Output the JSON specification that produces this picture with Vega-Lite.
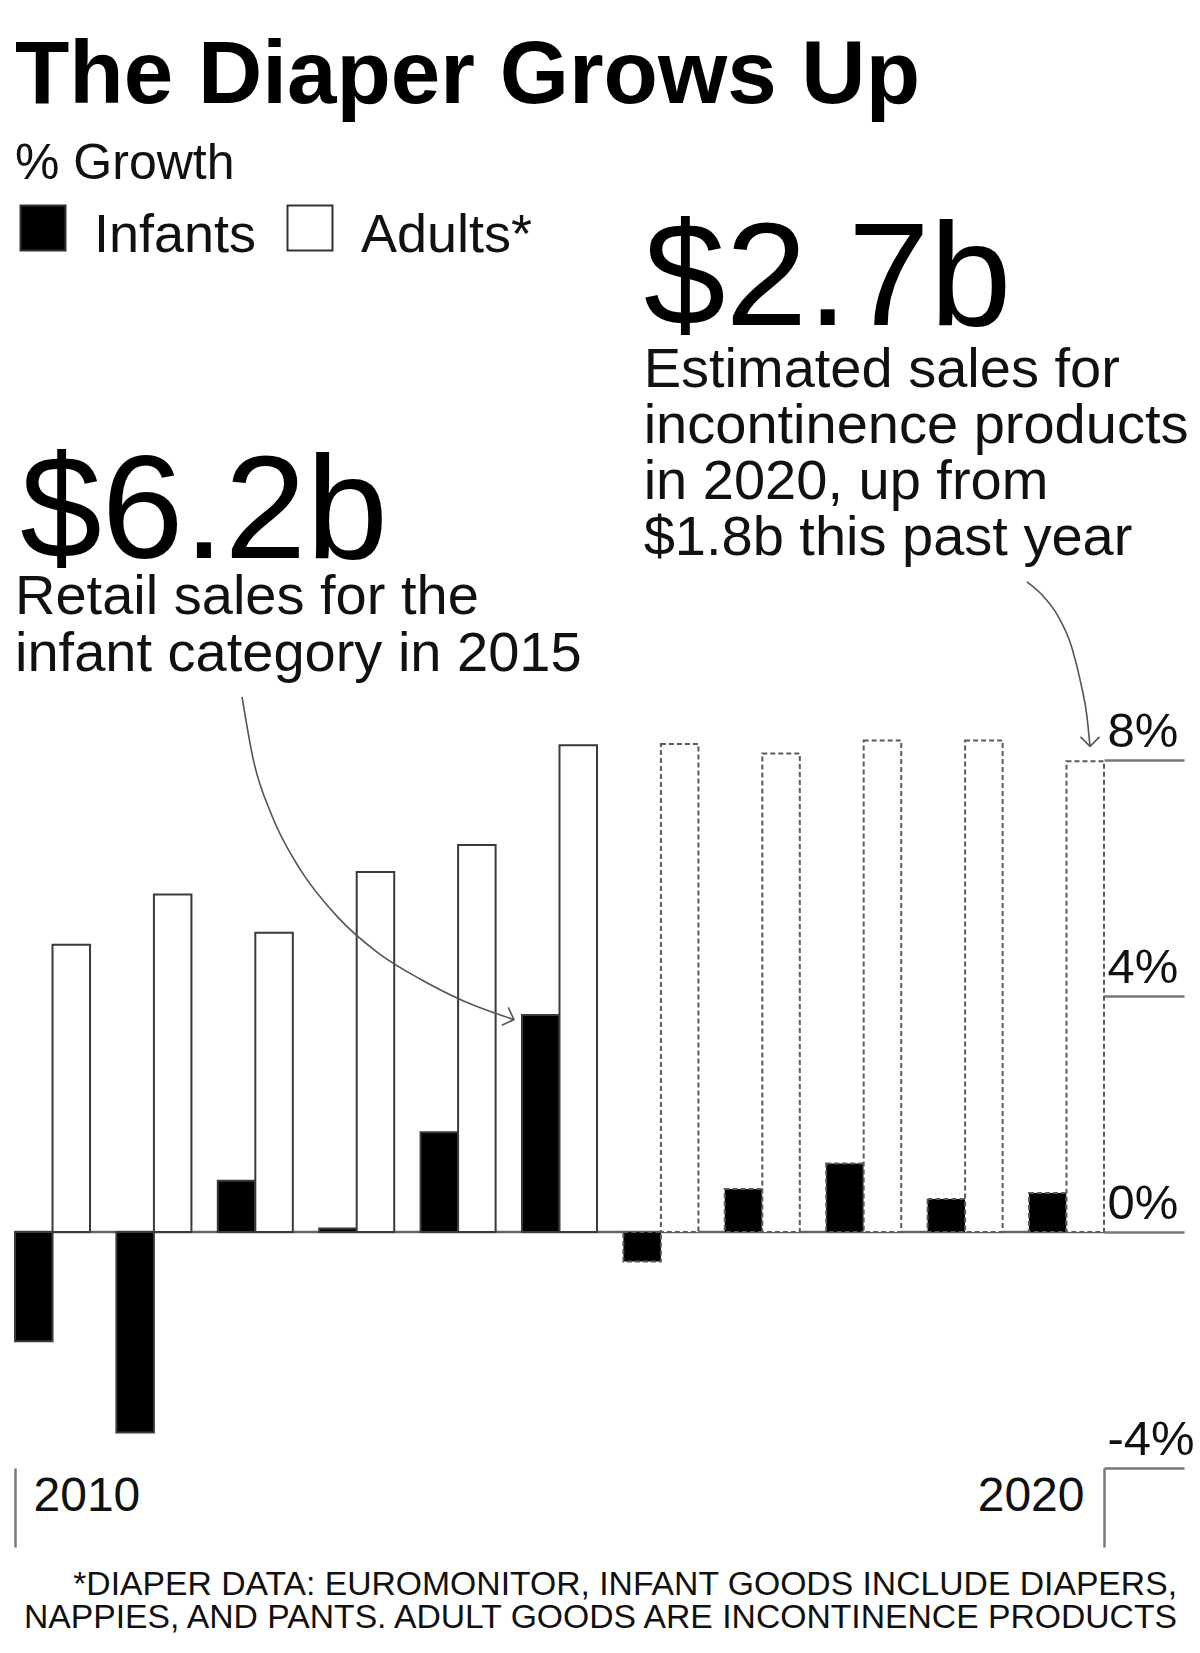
{
  "$schema": "https://vega.github.io/schema/vega-lite/v6.json",
  "width": 1089,
  "height": 708,
  "autosize": {"type": "none"},
  "padding": {"left": 15, "top": 760, "right": 96, "bottom": 185},
  "background": "white",
  "title": {
    "text": "The Diaper Grows Up",
    "subtitle": "% Growth",
    "anchor": "start",
    "frame": "group",
    "orient": "top",
    "font": "Liberation Sans",
    "fontSize": 89,
    "fontWeight": "bold",
    "color": "#000000",
    "subtitleFont": "Liberation Sans",
    "subtitleFontSize": 50,
    "subtitleColor": "#111111",
    "subtitlePadding": 17,
    "offset": 17
  },
  "datasets": {
    "growth": [
      {"year": "2010", "series": "Infants", "growth": -1.85, "basis": "Actual"},
      {"year": "2010", "series": "Adults", "growth": 4.87, "basis": "Actual"},
      {"year": "2011", "series": "Infants", "growth": -3.4, "basis": "Actual"},
      {"year": "2011", "series": "Adults", "growth": 5.72, "basis": "Actual"},
      {"year": "2012", "series": "Infants", "growth": 0.87, "basis": "Actual"},
      {"year": "2012", "series": "Adults", "growth": 5.07, "basis": "Actual"},
      {"year": "2013", "series": "Infants", "growth": 0.06, "basis": "Actual"},
      {"year": "2013", "series": "Adults", "growth": 6.1, "basis": "Actual"},
      {"year": "2014", "series": "Infants", "growth": 1.69, "basis": "Actual"},
      {"year": "2014", "series": "Adults", "growth": 6.56, "basis": "Actual"},
      {"year": "2015", "series": "Infants", "growth": 3.68, "basis": "Actual"},
      {"year": "2015", "series": "Adults", "growth": 8.25, "basis": "Actual"},
      {"year": "2016", "series": "Infants", "growth": -0.5, "basis": "Estimate"},
      {"year": "2016", "series": "Adults", "growth": 8.27, "basis": "Estimate"},
      {"year": "2017", "series": "Infants", "growth": 0.73, "basis": "Estimate"},
      {"year": "2017", "series": "Adults", "growth": 8.11, "basis": "Estimate"},
      {"year": "2018", "series": "Infants", "growth": 1.16, "basis": "Estimate"},
      {"year": "2018", "series": "Adults", "growth": 8.33, "basis": "Estimate"},
      {"year": "2019", "series": "Infants", "growth": 0.56, "basis": "Estimate"},
      {"year": "2019", "series": "Adults", "growth": 8.33, "basis": "Estimate"},
      {"year": "2020", "series": "Infants", "growth": 0.66, "basis": "Estimate"},
      {"year": "2020", "series": "Adults", "growth": 7.98, "basis": "Estimate"}
    ],
    "notes": [
      {"kind": "figure", "x": 2015.83, "y": 15.37, "text": "$2.7b"},
      {"kind": "body", "x": 2015.83, "y": 14.33, "text": "Estimated sales for"},
      {"kind": "body", "x": 2015.83, "y": 13.38, "text": "incontinence products"},
      {"kind": "body", "x": 2015.83, "y": 12.43, "text": "in 2020, up from"},
      {"kind": "body", "x": 2015.83, "y": 11.48, "text": "$1.8b this past year"},
      {"kind": "figure", "x": 2009.68, "y": 11.43, "text": "$6.2b"},
      {"kind": "body", "x": 2009.63, "y": 10.48, "text": "Retail sales for the"},
      {"kind": "body", "x": 2009.63, "y": 9.51, "text": "infant category in 2015"},
      {"kind": "source", "x": 2021.09, "y": -6.15, "text": "*DIAPER DATA: EUROMONITOR, INFANT GOODS INCLUDE DIAPERS,"},
      {"kind": "source", "x": 2021.09, "y": -6.72, "text": "NAPPIES, AND PANTS. ADULT GOODS ARE INCONTINENCE PRODUCTS"}
    ],
    "arrows": [
      {"arrow": "infants", "step": 1, "x": 2011.869, "y": 9.07},
      {"arrow": "infants", "step": 2, "x": 2011.977, "y": 8.03},
      {"arrow": "infants", "step": 3, "x": 2012.165, "y": 7.05},
      {"arrow": "infants", "step": 4, "x": 2012.441, "y": 6.15},
      {"arrow": "infants", "step": 5, "x": 2012.806, "y": 5.35},
      {"arrow": "infants", "step": 6, "x": 2013.22, "y": 4.72},
      {"arrow": "infants", "step": 7, "x": 2013.634, "y": 4.28},
      {"arrow": "infants", "step": 8, "x": 2014.048, "y": 3.92},
      {"arrow": "infants", "step": 9, "x": 2014.551, "y": 3.6},
      {"arrow": "adults", "step": 1, "x": 2019.61, "y": 11.02},
      {"arrow": "adults", "step": 2, "x": 2019.758, "y": 10.8},
      {"arrow": "adults", "step": 3, "x": 2019.916, "y": 10.44},
      {"arrow": "adults", "step": 4, "x": 2020.054, "y": 9.9},
      {"arrow": "adults", "step": 5, "x": 2020.143, "y": 9.29},
      {"arrow": "adults", "step": 6, "x": 2020.202, "y": 8.74},
      {"arrow": "adults", "step": 7, "x": 2020.232, "y": 8.23}
    ],
    "tips": [
      {"arrow": "infants", "x": 2014.551, "y": 3.6},
      {"arrow": "adults", "x": 2020.232, "y": 8.23}
    ]
  },
  "layer": [
    {
      "data": {"values": [{"level": 0}]},
      "mark": {"type": "rule", "color": "#666666", "strokeWidth": 2.5},
      "encoding": {
        "y": {"field": "level", "type": "quantitative", "scale": {"domain": [-4, 8], "nice": false, "zero": false}, "axis": null}
      }
    },
    {
      "data": {"name": "growth"},
      "mark": {"type": "bar", "strokeWidth": 2},
      "encoding": {
        "x": {"field": "year", "type": "ordinal", "scale": {"paddingInner": 0.26, "paddingOuter": 0}, "axis": null},
        "xOffset": {"field": "series", "type": "nominal", "scale": {"domain": ["Infants", "Adults"], "paddingInner": 0, "paddingOuter": 0}},
        "y": {
          "field": "growth", "type": "quantitative",
          "scale": {"domain": [-4, 8], "nice": false, "zero": false},
          "axis": {
            "orient": "right", "values": [-4, 0, 4, 8], "title": null, "domain": false, "grid": false,
            "ticks": true, "tickSize": 80, "tickWidth": 2.5, "tickColor": "#777777",
            "labelExpr": "datum.value + '%'", "labelAlign": "left", "labelBaseline": "alphabetic",
            "labelPadding": -77, "labelOffset": -14, "labelFontSize": 49, "labelFont": "Liberation Sans",
            "labelColor": "#111111", "labelOverlap": false, "labelBound": false, "labelFlush": false
          }
        },
        "fill": {
          "field": "series", "type": "nominal",
          "scale": {"domain": ["Infants", "Adults"], "range": ["#000000", "#ffffff"]},
          "legend": {
            "title": null, "orient": "none", "legendX": 1, "legendY": -551, "direction": "horizontal",
            "symbolType": "M-1,-1.36L1,-1.36L1,0.64L-1,0.64Z", "symbolSize": 2025,
            "symbolStrokeColor": "#333333", "symbolStrokeWidth": 2,
            "labelFontSize": 54, "labelFont": "Liberation Sans", "labelColor": "#111111",
            "labelOffset": 24, "columnPadding": 26, "labelLimit": 0,
            "labelExpr": "datum.label == 'Adults' ? 'Adults*' : datum.label"
          }
        },
        "stroke": {
          "field": "basis", "type": "nominal",
          "scale": {"domain": ["Actual", "Estimate"], "range": ["#3a3a3a", "#5a5a5a"]},
          "legend": null
        },
        "strokeDash": {
          "field": "basis", "type": "nominal",
          "scale": {"domain": ["Actual", "Estimate"], "range": [[1, 0], [5, 3]]},
          "legend": null
        }
      }
    },
    {
      "data": {"name": "arrows"},
      "mark": {"type": "line", "interpolate": "monotone", "color": "#555555", "strokeWidth": 1.6},
      "encoding": {
        "x": {
          "field": "x", "type": "quantitative",
          "scale": {"domain": [2009.63, 2020.37], "nice": false, "zero": false},
          "axis": {
            "orient": "bottom", "values": [2009.63, 2020.37], "title": null, "domain": false, "grid": false,
            "ticks": true, "tickSize": 79, "tickWidth": 2.5, "tickColor": "#777777",
            "labelExpr": "datum.value < 2015 ? '2010' : '2020'",
            "labelAlign": {"condition": {"test": "datum.value < 2015", "value": "left"}, "value": "right"},
            "labelOffset": {"condition": {"test": "datum.value < 2015", "value": 18}, "value": -20},
            "labelBaseline": "alphabetic", "labelPadding": -37, "labelFontSize": 48,
            "labelFont": "Liberation Sans", "labelColor": "#111111",
            "labelOverlap": false, "labelBound": false, "labelFlush": false
          }
        },
        "y": {"field": "y", "type": "quantitative", "scale": {"domain": [-4, 8], "nice": false, "zero": false}, "axis": null},
        "detail": {"field": "arrow"},
        "order": {"field": "step"}
      }
    },
    {
      "data": {"name": "tips"},
      "transform": [{"filter": "datum.arrow == 'infants'"}],
      "mark": {"type": "point", "shape": "M-1,-1L0,0L-1,1", "angle": 20, "size": 361, "filled": false, "stroke": "#555555", "strokeWidth": 1.6, "opacity": 1},
      "encoding": {
        "x": {"field": "x", "type": "quantitative", "scale": {"domain": [2009.63, 2020.37], "nice": false, "zero": false}, "axis": null},
        "y": {"field": "y", "type": "quantitative", "scale": {"domain": [-4, 8], "nice": false, "zero": false}, "axis": null}
      }
    },
    {
      "data": {"name": "tips"},
      "transform": [{"filter": "datum.arrow == 'adults'"}],
      "mark": {"type": "point", "shape": "M-1,-1L0,0L-1,1", "angle": 90, "size": 361, "filled": false, "stroke": "#555555", "strokeWidth": 1.6, "opacity": 1},
      "encoding": {
        "x": {"field": "x", "type": "quantitative", "scale": {"domain": [2009.63, 2020.37], "nice": false, "zero": false}, "axis": null},
        "y": {"field": "y", "type": "quantitative", "scale": {"domain": [-4, 8], "nice": false, "zero": false}, "axis": null}
      }
    },
    {
      "data": {"name": "notes"},
      "transform": [{"filter": "datum.kind == 'figure'"}],
      "mark": {"type": "text", "align": "left", "baseline": "alphabetic", "font": "Liberation Sans", "fontSize": 147, "color": "#000000"},
      "encoding": {
        "x": {"field": "x", "type": "quantitative", "scale": {"domain": [2009.63, 2020.37], "nice": false, "zero": false}, "axis": null},
        "y": {"field": "y", "type": "quantitative", "scale": {"domain": [-4, 8], "nice": false, "zero": false}, "axis": null},
        "text": {"field": "text"}
      }
    },
    {
      "data": {"name": "notes"},
      "transform": [{"filter": "datum.kind == 'body'"}],
      "mark": {"type": "text", "align": "left", "baseline": "alphabetic", "font": "Liberation Sans", "fontSize": 56, "color": "#111111"},
      "encoding": {
        "x": {"field": "x", "type": "quantitative", "scale": {"domain": [2009.63, 2020.37], "nice": false, "zero": false}, "axis": null},
        "y": {"field": "y", "type": "quantitative", "scale": {"domain": [-4, 8], "nice": false, "zero": false}, "axis": null},
        "text": {"field": "text"}
      }
    },
    {
      "data": {"name": "notes"},
      "transform": [{"filter": "datum.kind == 'source'"}],
      "mark": {"type": "text", "align": "right", "baseline": "alphabetic", "font": "Liberation Sans", "fontSize": 33.7, "color": "#111111"},
      "encoding": {
        "x": {"field": "x", "type": "quantitative", "scale": {"domain": [2009.63, 2020.37], "nice": false, "zero": false}, "axis": null},
        "y": {"field": "y", "type": "quantitative", "scale": {"domain": [-4, 8], "nice": false, "zero": false}, "axis": null},
        "text": {"field": "text"}
      }
    }
  ],
  "resolve": {"scale": {"x": "independent", "y": "independent"}},
  "config": {
    "font": "Liberation Sans",
    "view": {"stroke": null}
  }
}
